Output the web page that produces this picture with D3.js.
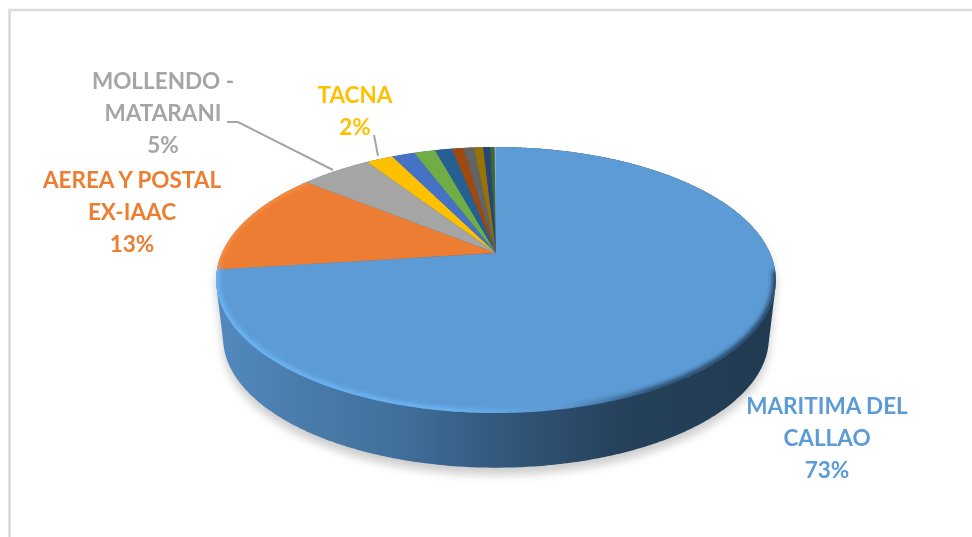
<!DOCTYPE html>
<html>
<head>
<meta charset="utf-8">
<script src="https://cdn.jsdelivr.net/npm/d3@7"></script>
<style>
  html, body { margin: 0; padding: 0; background: #fff; overflow: hidden; }
  svg { display: block; }
  text { font-family: Lato, "Open Sans", sans-serif; font-weight: 700; text-anchor: middle; }
</style>
</head>
<body>
<div id="chart"></div>
<script>
// share of each slice (%), clockwise from 12 o'clock; the small ones have no label in the original
const values = [73.2, 12.8, 5, 1.9, 1.6, 1.5, 1.2, 0.8, 0.77, 0.63, 0.5, 0.3, 0.1];
const colors = ["#5b9bd5", "#ed7d31", "#a5a5a5", "#ffc000", "#4472c4", "#70ad47",
                "#255e91", "#9e480e", "#636363", "#997300", "#264478", "#43682b", "#7cafdd"];
const labels = [
  { lines: ["MARITIMA DEL", "CALLAO", "73%"], slice: 0, x: 827, y: 414 },
  { lines: ["AEREA Y POSTAL", "EX-IAAC", "13%"], slice: 1, x: 132, y: 188 },
  { lines: ["MOLLENDO -", "MATARANI", "5%"], slice: 2, x: 163, y: 89 },
  { lines: ["TACNA", "2%"], slice: 3, x: 355, y: 103 }
];
const leaders = [
  [[227, 122], [238, 122], [333, 170]],
  [[374, 135], [378, 156]]
];

const width = 972, height = 537;
const svg = d3.select("#chart").append("svg").attr("width", width).attr("height", height);
const defs = svg.append("defs");

// the disc is seen in perspective: apex of the slices sits above the centre of the ellipse
const apex = { x: 496, y: 253 };
const persp = -0.203, scaleU = 274, scaleV = 127.5;
const depthDrop = 58.7, depthScale = 0.975;

function project(angle, r = 1, depth = 0) {
  const u = r * Math.sin(angle), v = -r * Math.cos(angle);
  const w = 1 + persp * v;
  const s = depth ? depthScale : 1;
  return [apex.x + s * scaleU * u / w, apex.y + (depth ? depthDrop : 0) + s * scaleV * v / w];
}
function arcPoints(a0, a1, depth = 0) {
  const n = Math.max(2, Math.ceil(Math.abs(a1 - a0) / 0.01));
  return d3.range(n + 1).map(i => project(a0 + (a1 - a0) * i / n, 1, depth));
}
const line = d3.line();
const outline = arcPoints(0, 2 * Math.PI);
const hull = d3.polygonHull(outline.concat(arcPoints(0, 2 * Math.PI, 1)));

const blur = (id, sd) => defs.append("filter").attr("id", id)
  .attr("x", "-20%").attr("y", "-20%").attr("width", "140%").attr("height", "140%")
  .append("feGaussianBlur").attr("stdDeviation", sd);
blur("shadowBlur", 5);
blur("rimBlur", 2.2);
blur("edgeBlur", 0.45);

const gradient = (id, x1, x2, stops) => {
  const g = defs.append("linearGradient").attr("id", id)
    .attr("gradientUnits", "userSpaceOnUse")
    .attr("x1", x1).attr("x2", x2).attr("y1", 0).attr("y2", 0);
  g.selectAll("stop").data(stops).join("stop")
    .attr("offset", d => d[0]).attr("stop-color", d => d[1]).attr("stop-opacity", d => d[2] ?? 1);
};
gradient("sideFill", 217, 775, [
  [0, "#5389bf"], [0.15, "#4a7cab"], [0.32, "#41709c"], [0.5, "#33597d"],
  [0.72, "#26415b"], [1, "#213a52"]
]);
gradient("rimFill", 217, 775, [
  [0, "#6db5f7", 0.95], [0.42, "#6db5f7", 0.95], [0.6, "#6db5f7", 0], [0.62, "#1f3a55", 0],
  [0.78, "#1f3a55", 0.8], [1, "#1f3a55", 0.9]
]);

defs.append("clipPath").attr("id", "topClip")
  .append("path").attr("d", line(outline) + "Z");

// chart frame, only the top and left edges fall inside the crop
svg.append("path").attr("d", "M9.5 537V10H972")
  .attr("fill", "none").attr("stroke", "#d9d9d9").attr("stroke-width", 2.5);

svg.append("path").attr("d", line(hull) + "Z")
  .attr("transform", "translate(0,7)")
  .attr("fill", "#000").attr("opacity", 0.2).attr("filter", "url(#shadowBlur)");

svg.append("path").attr("d", line(hull) + "Z").attr("fill", "url(#sideFill)");

const pie = d3.pie().sort(null).value(d => d).startAngle(0).endAngle(2 * Math.PI);
const slices = pie(values);

const face = svg.append("g").attr("filter", "url(#edgeBlur)");
face.selectAll("path.slice").data(slices).join("path")
  .attr("class", "slice")
  .attr("fill", (d, i) => colors[i])
  .attr("d", d => line([[apex.x, apex.y], ...arcPoints(d.startAngle, d.endAngle)]) + "Z");

// soft bevel along the rim: light on the left and front, dark towards the right
const bevel = svg.append("g").attr("clip-path", "url(#topClip)");
bevel.append("path")
  .attr("d", line(arcPoints(Math.PI * 0.55, slices[0].endAngle)))
  .attr("fill", "none").attr("stroke", "url(#rimFill)").attr("stroke-width", 7)
  .attr("stroke-linecap", "round")
  .attr("filter", "url(#rimBlur)");
bevel.append("path")
  .attr("d", line(arcPoints(slices[1].startAngle, slices[1].endAngle)))
  .attr("fill", "none").attr("stroke", "#fb9a4e").attr("stroke-width", 3)
  .attr("filter", "url(#rimBlur)");

svg.selectAll("path.leader").data(leaders).join("path")
  .attr("class", "leader")
  .attr("d", d => line(d))
  .attr("fill", "none").attr("stroke", "#a5a5a5").attr("stroke-width", 2);

const label = svg.selectAll("text.label").data(labels).join("text")
  .attr("class", "label")
  .attr("fill", d => colors[d.slice])
  .attr("font-size", 22.5)
  .attr("filter", "url(#edgeBlur)");
label.selectAll("tspan").data(d => d.lines.map((t, i) => ({ t, x: d.x, y: d.y + i * 32 }))).join("tspan")
  .attr("x", d => d.x).attr("y", d => d.y).text(d => d.t);
</script>
</body>
</html>
